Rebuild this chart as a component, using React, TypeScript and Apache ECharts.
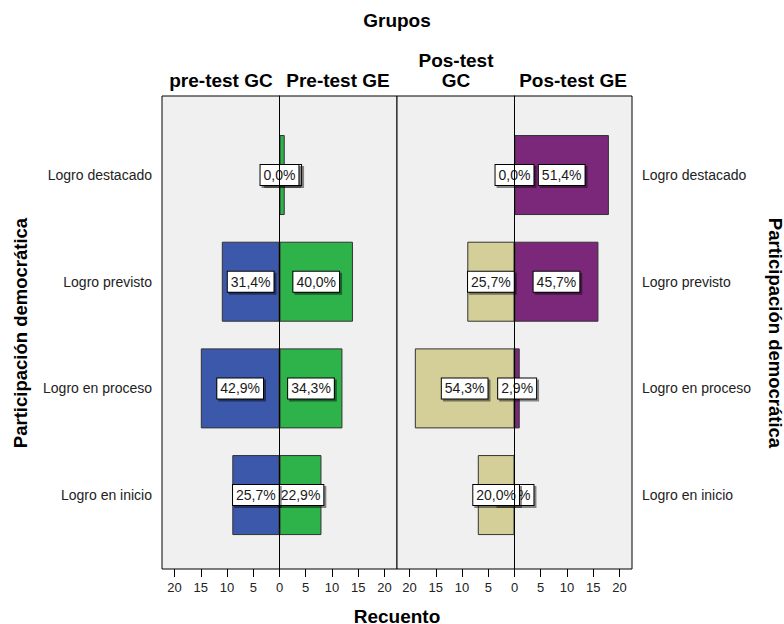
import React, { useEffect, useRef } from "react";
import * as echarts from "echarts";

const categories = ["Logro en inicio", "Logro en proceso", "Logro previsto", "Logro destacado"];
const preGC = [9, 15, 11, 0];
const preGE = [8, 12, 14, 1];
const postGC = [7, 19, 9, 0];
const postGE = [0, 1, 16, 18];
const xTickValues = [-20, -15, -10, -5, 0, 5, 10, 15, 20];
const panelTitles = ["pre-test GC", "Pre-test GE", "Pos-test\nGC", "Pos-test GE"];

const FONT = '"Liberation Sans", Arial, sans-serif';
const XMIN = -22.4;
const XMAX = 22.4;

const pct = (arr: number[]) => {
  const total = arr.reduce((a, b) => a + b, 0);
  return (p: any) => {
    const v = arr[p.dataIndex];
    return ((v / total) * 100).toFixed(1).replace(".", ",") + "%";
  };
};

const labelStyle = {
  show: true,
  position: "inside",
  color: "#1a1a1a",
  fontFamily: FONT,
  fontSize: 14,
  lineHeight: 16,
  backgroundColor: "#ffffff",
  borderColor: "#000000",
  borderWidth: 1,
  padding: [2, 3, 2, 3],
  shadowColor: "rgba(0,0,0,0.45)",
  shadowOffsetX: 2,
  shadowOffsetY: 2,
  shadowBlur: 0,
};

export default function App() {
  const ref = useRef<HTMLDivElement>(null);
  useEffect(() => {
    if (!ref.current) return;
    const chart = echarts.init(ref.current, undefined, { renderer: "svg" });

    const frameGrid = (left: number) => ({
      left,
      top: 96,
      width: 235,
      height: 473,
      show: true,
      backgroundColor: "#F0F0F0",
      borderColor: "#000000",
      borderWidth: 1,
      containLabel: false,
    });
    const barGrid = (left: number) => ({
      left,
      top: 121.7,
      width: 235,
      height: 426.7,
      show: false,
      containLabel: false,
    });

    const frameX = (gridIndex: number) => ({
      gridIndex,
      type: "value",
      min: XMIN,
      max: XMAX,
      position: "bottom",
      axisLine: { show: false, onZero: false },
      axisTick: {
        show: true,
        length: 8,
        lineStyle: { color: "#000" },
        customValues: xTickValues,
      },
      axisLabel: {
        show: true,
        customValues: xTickValues,
        formatter: (v: number) => String(Math.abs(v)),
        color: "#222",
        fontFamily: FONT,
        fontSize: 13,
        margin: 12,
      },
      splitLine: { show: false },
    });
    const barX = (gridIndex: number) => ({
      gridIndex,
      type: "value",
      min: XMIN,
      max: XMAX,
      show: false,
      splitLine: { show: false },
    });
    const frameY = (gridIndex: number) => ({
      gridIndex,
      type: "value",
      min: 0,
      max: 1,
      axisLine: { show: true, onZero: true, lineStyle: { color: "#000", width: 1 } },
      axisTick: { show: false },
      axisLabel: { show: false },
      splitLine: { show: false },
      z: 10,
    });
    const barY = (gridIndex: number, position: string) => ({
      gridIndex,
      type: "category",
      data: categories,
      position,
      axisLine: { show: false },
      axisTick: { show: true, alignWithLabel: true, length: 7, lineStyle: { color: "#000" } },
      axisLabel: {
        color: "#222",
        fontFamily: FONT,
        fontSize: 14,
        margin: 10,
      },
      splitLine: { show: false },
    });

    const barSeries = (
      name: string,
      axis: number,
      arr: number[],
      sign: number,
      color: string
    ) => ({
      type: "bar",
      name,
      xAxisIndex: axis,
      yAxisIndex: axis,
      barWidth: 80,
      barGap: "-100%",
      data: arr.map((v) => (sign < 0 ? -v : v)),
      itemStyle: { color, borderColor: "#333333", borderWidth: 1 },
      label: { ...labelStyle, formatter: pct(arr) },
      z: 2,
    });

    const titleText = (text: string, x: number, y: number, size = 19, rotation = 0) => ({
      type: "text",
      x,
      y,
      rotation,
      style: {
        text,
        fill: "#000",
        font: `bold ${size}px ${FONT}`,
        align: "center",
        verticalAlign: "middle",
        textAlign: "center",
        textVerticalAlign: "middle",
      },
    });

    chart.setOption({
      animation: false,
      grid: [frameGrid(162), frameGrid(397), barGrid(162), barGrid(397)],
      xAxis: [frameX(0), frameX(1), barX(2), barX(3)],
      yAxis: [frameY(0), frameY(1), barY(2, "left"), barY(3, "right")],
      series: [
        barSeries("Pre-test GE", 2, preGE, 1, "#2EB24A"),
        barSeries("pre-test GC", 2, preGC, -1, "#3C58AA"),
        barSeries("Pos-test GE", 3, postGE, 1, "#7B287A"),
        barSeries("Pos-test GC", 3, postGC, -1, "#D4CF99"),
      ],
      graphic: [
        titleText("Grupos", 397, 20),
        titleText(panelTitles[0], 221, 80),
        titleText(panelTitles[1], 338, 80),
        titleText(panelTitles[2].split("\n")[0], 456, 60),
        titleText(panelTitles[2].split("\n")[1], 456, 80),
        titleText(panelTitles[3], 573, 80),
        titleText("Recuento", 397, 616),
        titleText("Participación democrática", 20, 333, 18.5, Math.PI / 2),
        titleText("Participación democrática", 775, 333, 18.5, -Math.PI / 2),
      ],
    });
    return () => chart.dispose();
  }, []);
  return (
    <div
      ref={ref}
      style={{ position: "absolute", left: 0, top: 0, width: 784, height: 624, background: "#ffffff" }}
    />
  );
}
